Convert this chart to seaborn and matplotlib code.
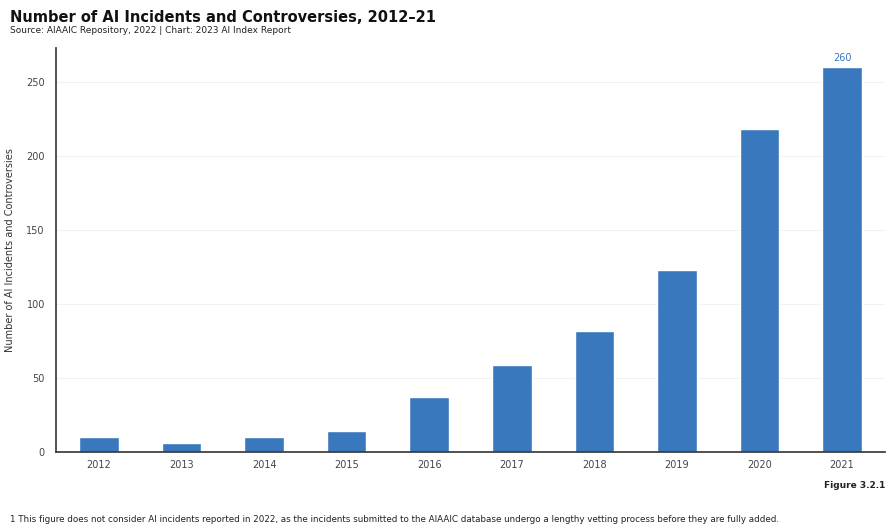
import matplotlib
matplotlib.use("Agg")
import matplotlib.pyplot as plt
import seaborn as sns
import pandas as pd

years = ["2012", "2013", "2014", "2015", "2016", "2017", "2018", "2019", "2020", "2021"]
incidents = [10, 6, 10, 14, 37, 59, 82, 123, 218, 260]
yticks = [0, 50, 100, 150, 200, 250]

df = pd.DataFrame({"year": years, "n": incidents})

sns.set_theme(style="white")
plt.rcParams['font.family'] = ['DejaVu Sans']

fig = plt.figure(figsize=(8.91, 5.31), dpi=100)
ax = fig.add_axes([56/891, 1 - 452/531, (885-56)/891, (452-48)/531])

sns.barplot(data=df, x="year", y="n", color="#3a78bd", saturation=1, width=0.48, ax=ax)

ax.set_xlim(-0.52, 9.52)
ax.set_ylim(0, 273)
ax.set_yticks(yticks)
ax.set_yticklabels([str(t) for t in yticks], fontsize=7, color="#444444")
ax.tick_params(axis="x", labelsize=7, colors="#444444", length=0, pad=6)
ax.tick_params(axis="y", length=0, pad=8)
for t in ax.get_xticklabels():
    t.set_color("#444444")
ax.set_xlabel("")
ax.set_ylabel("Number of AI Incidents and Controversies", fontsize=7, color="#333333", labelpad=8)
ax.yaxis.grid(True, color="#f2f2f2", linewidth=0.8)
ax.set_axisbelow(True)
for s in ["top", "right"]:
    ax.spines[s].set_visible(False)
for s in ["left", "bottom"]:
    ax.spines[s].set_color("#333333")
    ax.spines[s].set_linewidth(1.2)

ax.text(9, incidents[-1] + 3, str(incidents[-1]), ha="center", va="bottom", fontsize=7, color="#3a78bd")

fig.text(10/891, 1 - 17/531, "Number of AI Incidents and Controversies, 2012–21", fontsize=10.5,
         fontweight="bold", ha="left", va="center", color="#111111")
fig.text(10/891, 1 - 31/531, "Source: AIAAIC Repository, 2022 | Chart: 2023 AI Index Report", fontsize=6.5,
         ha="left", va="center", color="#222222")
fig.text(885/891, 1 - 486/531, "Figure 3.2.1", fontsize=6.5, fontweight="bold", ha="right", va="center",
         color="#222222")
fig.text(10/891, 1 - 520/531,
         "1 This figure does not consider AI incidents reported in 2022, as the incidents submitted to the AIAAIC database undergo a lengthy vetting process before they are fully added.",
         fontsize=6.3, ha="left", va="center", color="#222222")

fig.savefig("out.png", dpi=100)
